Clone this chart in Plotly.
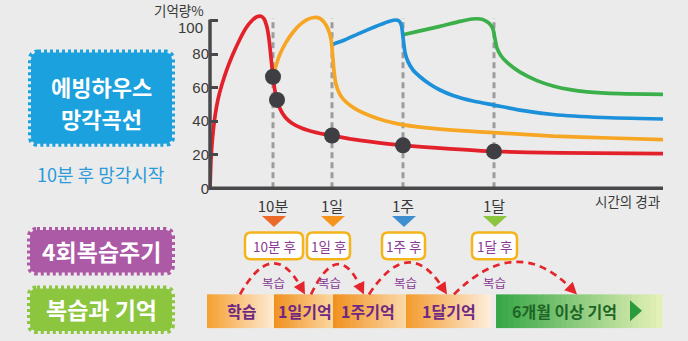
import plotly.graph_objects as go

# ---------------------------------------------------------------- data
# horizontal time position (display scale) and retention % for each curve
red_t = [0, 1, 2.5, 5, 8, 12, 17, 23, 30, 36, 42, 47, 51, 54, 57, 59, 61, 63,
         65, 67, 70, 75, 82, 92, 104, 121, 140, 160, 193, 230, 284, 350, 453]
red_v = [0, 17, 30, 43, 53, 62, 71, 80, 89, 95.5, 100, 102.3, 102.5, 101, 96, 89, 78, 66.5,
         58, 52.7, 47.5, 42.5, 38.8, 35.8, 33.6, 31.5, 29.5, 27.8, 25.6, 24, 22, 21.1, 20.7]

orange_t = [63, 66, 70, 76, 83, 90, 97, 104, 110, 114, 118, 121, 122.5, 124, 126, 129, 133,
            140, 148, 160, 175, 192, 210, 230, 255, 284, 343, 400, 453]
orange_v = [66.5, 73, 80, 87, 93, 97.5, 100.5, 101.8, 101.2, 99, 95, 89, 80, 70, 62, 57, 53.3,
            49.5, 46.5, 43.3, 40.3, 38, 36.5, 35.3, 34.2, 33.2, 31.1, 30, 29]

blue_t = [122, 135, 150, 165, 178, 185, 189, 191.5, 193, 195, 198, 203, 210, 220, 230, 243,
          263, 284, 310, 343, 393, 453]
blue_v = [85.6, 88.5, 92.5, 96.3, 99.3, 100.3, 99.8, 97, 90, 81, 75.5, 70.5, 66.5, 62, 58.6, 55.3,
          52, 49.6, 46.6, 44, 42.2, 41.3]

green_t = [193, 210, 230, 250, 262, 272, 279, 283, 285, 287, 291, 297, 310, 327, 343, 360,
           377, 410, 453]
green_v = [91.5, 93.8, 96.5, 99.5, 100.9, 100.8, 98.5, 95, 89, 83.5, 79, 75, 69.2, 64.2, 61,
           58.8, 57.5, 56.4, 56]

# review points on the first curve
dot_t = [63, 67, 122, 193, 284]
dot_v = [66.5, 52.7, 31.5, 25.6, 22]

# review milestones
milestone_t = [63, 122, 193, 284]
milestone_labels = ["10분", "1일", "1주", "1달"]
milestone_colors = ["#ec6a27", "#f7941d", "#3f8fd0", "#8cc63f"]
review_boxes = ["10분 후", "1일 후", "1주 후", "1달 후"]

y_ticks = [0, 20, 40, 60, 80, 100]
y_ticktext = ["0", "20", "40", "60", "80", ""]   # "100" is set just below its tick

# memory stages along the bottom row
stage_labels = ["학습", "1일기억", "1주기억", "1달기억", "6개월 이상 기억"]

# ---------------------------------------------------------------- layout helpers
W, H = 688, 341
X_RANGE = [0, 453]
X_PX = [210, 663]
Y_RANGE = [-3, 108]
Y0_PX = 190          # pixel row of 0 %
PX_PER_PCT = 1.693
KR = "Noto Sans CJK KR"
NUM = "Liberation Sans Narrow, Liberation Sans, sans-serif"


def xpx(t):
    return X_PX[0] + (t - X_RANGE[0]) / (X_RANGE[1] - X_RANGE[0]) * (X_PX[1] - X_PX[0])


def ypx(v):
    return Y0_PX - v * PX_PER_PCT


def P(x, y):
    """pixel position -> paper coordinates string"""
    return f"{x / W:.5f},{1 - y / H:.5f}"


def px(x):
    return x / W


def py(y):
    return 1 - y / H


shapes = []
annotations = []


def text(x, y, s, size=13, color="#333", family=KR, weight=400, xanchor="center"):
    annotations.append(dict(
        x=px(x), y=py(y), xref="paper", yref="paper", text=s, showarrow=False,
        xanchor=xanchor, yanchor="middle",
        font=dict(size=size, color=color, family=family, weight=weight)))


def rounded_path(x0, y0, x1, y1, r):
    return (f"M {P(x0 + r, y0)} L {P(x1 - r, y0)} Q {P(x1, y0)} {P(x1, y0 + r)} "
            f"L {P(x1, y1 - r)} Q {P(x1, y1)} {P(x1 - r, y1)} L {P(x0 + r, y1)} "
            f"Q {P(x0, y1)} {P(x0, y1 - r)} L {P(x0, y0 + r)} Q {P(x0, y0)} {P(x0 + r, y0)} Z")


def hex_mix(c0, c1, f):
    a = [int(c0[i:i + 2], 16) for i in (1, 3, 5)]
    b = [int(c1[i:i + 2], 16) for i in (1, 3, 5)]
    return "#" + "".join(f"{round(a[k] + (b[k] - a[k]) * f):02x}" for k in range(3))


# ---------------------------------------------------------------- figure
fig = go.Figure()

# dashed guide lines at review milestones
for t in milestone_t:
    shapes.append(dict(type="line", xref="x", yref="y", x0=t, x1=t, y0=0, y1=101.5,
                       line=dict(color="#9c9c9c", width=3, dash="6px,4px"), layer="below"))

curves = [(red_t, red_v, "#e3212b"), (orange_t, orange_v, "#f6a623"),
          (blue_t, blue_v, "#1c90d8"), (green_t, green_v, "#3bb04a")]
for t, v, c in curves[::-1]:
    fig.add_trace(go.Scatter(x=t, y=v, mode="lines",
                             line=dict(color=c, width=3.7, shape="spline", smoothing=0.5),
                             hoverinfo="skip", showlegend=False))

fig.add_trace(go.Scatter(x=dot_t, y=dot_v, mode="markers",
                         marker=dict(size=16, color="#3e3e43"), showlegend=False, cliponaxis=False))

# axis lines (y axis stops at 100 %)
shapes.append(dict(type="line", xref="paper", yref="paper", x0=px(xpx(0)), x1=px(xpx(0)),
                   y0=py(ypx(0) + 1.5), y1=py(ypx(100) - 1), line=dict(color="#48484b", width=3.5)))
shapes.append(dict(type="line", xref="paper", yref="paper", x0=px(xpx(0) - 1.5), x1=px(xpx(X_RANGE[1])),
                   y0=py(ypx(0)), y1=py(ypx(0)), line=dict(color="#48484b", width=3.5)))

text(205, 28, "100", size=15, color="#3a3a3a", family=NUM, xanchor="right")
text(206, 10, "기억량%", size=13.5, color="#3a3a3a", xanchor="right")
text(627, 203, "시간의 경과", size=13.5, color="#3a3a3a")

# milestone triangles and review boxes
box_px = [(245, 303), (307, 350), (382, 425), (472, 517)]
for t, c, lab, (bx0, bx1) in zip(milestone_t, milestone_colors, review_boxes, box_px):
    cx = xpx(t) + 1
    shapes.append(dict(type="path", xref="paper", yref="paper",
                       path=f"M {P(cx - 12, 218)} L {P(cx + 12, 218)} L {P(cx, 229)} Z",
                       fillcolor=c, line=dict(width=0)))
    shapes.append(dict(type="path", xref="paper", yref="paper",
                       path=rounded_path(bx0, 234.5, bx1, 261.5, 6),
                       fillcolor="#ffffff", line=dict(color="#f4b41a", width=2.5)))
    text((bx0 + bx1) / 2, 248, lab, size=13.5, color="#8a3a93")

# memory stage bars with left-to-right fade
stage_px = [(207, 274), (274, 333), (333, 406), (406, 491), (496, 662)]
stage_cols = [("#f5a031", "#fdebd3"), ("#f0901d", "#fbd8a3"), ("#f0901d", "#fbd9a8"),
              ("#f39a2a", "#fdeedd"), ("#35a646", "#e6f1b8")]
stage_text_x = [242, 305, 368, 449, 564]
N = 28
for (x0, x1), (c0, c1) in zip(stage_px, stage_cols):
    w = (x1 - x0) / N
    for i in range(N):
        shapes.append(dict(type="rect", xref="paper", yref="paper",
                           x0=px(x0 + i * w), x1=px(x0 + (i + 1) * w + 0.6),
                           y0=py(331), y1=py(297),
                           fillcolor=hex_mix(c0, c1, (i + 0.5) / N), line=dict(width=0)))
for lab, x in zip(stage_labels, stage_text_x):
    col = "#1d6526" if "6개월" in lab else "#6e2884"
    text(x, 314, lab, size=16, color=col, weight=700)
shapes.append(dict(type="path", xref="paper", yref="paper",
                   path=f"M {P(630, 303)} L {P(642, 313.5)} L {P(630, 324)} Z",
                   fillcolor="#2a9b3b", line=dict(width=0)))

# dashed review arrows
arrows = [(240, 305, 268), (311, 364, 269), (369, 447, 267), (454, 577, 266)]
for x0, x1, apex in arrows:
    y0 = y1 = 297
    cx = (x0 + x1) / 2
    cy = 2 * apex - (y0 + y1) / 2
    dx, dy = x1 - cx, y1 - cy
    L = (dx * dx + dy * dy) ** 0.5
    ux, uy = dx / L, dy / L
    hl, hw = 12, 12
    bx, by = x1 - ux * hl, y1 - uy * hl
    shapes.append(dict(type="path", xref="paper", yref="paper",
                       path=f"M {P(x0, y0)} Q {P(cx, cy)} {P(bx + ux * 2, by + uy * 2)}",
                       line=dict(color="#e4252b", width=2.7, dash="7px,5px")))
    shapes.append(dict(type="path", xref="paper", yref="paper",
                       path=(f"M {P(x1, y1)} L {P(bx - uy * hw / 2, by + ux * hw / 2)} "
                             f"L {P(bx + uy * hw / 2, by - ux * hw / 2)} Z"),
                       fillcolor="#e4252b", line=dict(width=0)))
for x in [273, 329, 405, 495]:
    text(x, 285, "복습", size=12.5, color="#8a3a93")

# stamp-style title panels
panels = [((28, 50, 175, 148), "#1ba1dd"), ((27, 229, 175, 278), "#ad5aa6"),
          ((27, 288, 175, 337), "#8cc63f")]
for (x0, y0, x1, y1), c in panels:
    shapes.append(dict(type="path", xref="paper", yref="paper",
                       path=rounded_path(x0 + 3, y0 + 3, x1 - 3, y1 - 3, 7),
                       fillcolor=c, line=dict(color=c, width=6, dash="3px,3px")))
text(101, 87, "에빙하우스", size=22, color="#ffffff", weight=700)
text(101, 119.5, "망각곡선", size=22, color="#ffffff", weight=700)
text(100, 176, "10분 후 망각시작", size=18, color="#2a9ad8")
text(101, 253, "4회복습주기", size=23, color="#ffffff", weight=700)
text(101, 312, "복습과 기억", size=23, color="#ffffff", weight=700)

dom_x = [px(xpx(X_RANGE[0])), px(xpx(X_RANGE[1]))]
dom_y = [py(ypx(Y_RANGE[0])), py(ypx(Y_RANGE[1]))]

fig.update_layout(
    width=W, height=H, margin=dict(l=0, r=0, t=0, b=0),
    paper_bgcolor="#ebebec", plot_bgcolor="rgba(0,0,0,0)",
    shapes=shapes, annotations=annotations,
    xaxis=dict(domain=dom_x, range=X_RANGE, showgrid=False, zeroline=False, showline=False,
               tickvals=milestone_t, ticktext=milestone_labels, ticks="", ticklabelstandoff=3,
               tickfont=dict(size=15, color="#3a3a3a", family=KR)),
    yaxis=dict(domain=dom_y, range=Y_RANGE, showgrid=False, zeroline=False, showline=False,
               tickvals=y_ticks, ticktext=y_ticktext, ticks="inside", ticklen=8, tickwidth=2.5,
               tickcolor="#48484b",
               tickfont=dict(size=15, color="#3a3a3a", family=NUM)),
)

fig.write_html("out.html")
